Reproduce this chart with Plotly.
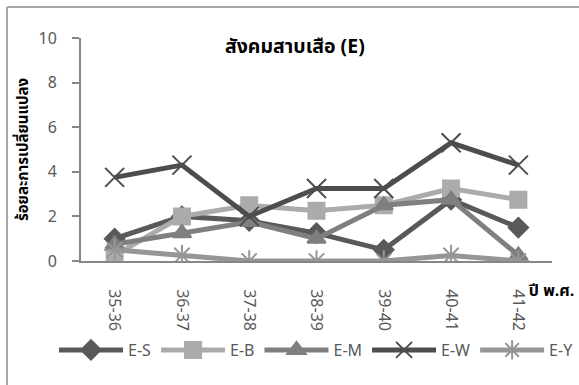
import plotly.graph_objects as go

# Periods (Buddhist-era year pairs) on the category axis
periods = ["35-36", "36-37", "37-38", "38-39", "39-40", "40-41", "41-42"]

# Percent change per series
e_s = [1.0, 2.0, 1.8, 1.25, 0.5, 2.75, 1.5]
e_b = [0.25, 2.0, 2.5, 2.25, 2.5, 3.25, 2.75]
e_m = [0.75, 1.25, 1.75, 1.0, 2.5, 2.75, 0.25]
e_w = [3.75, 4.3, 2.0, 3.25, 3.25, 5.3, 4.3]
e_y = [0.5, 0.25, 0.0, 0.0, 0.0, 0.25, 0.0]

series = [
    ("E-S", e_s, "#595959", "diamond", 15),
    ("E-B", e_b, "#ababab", "square", 16),
    ("E-M", e_m, "#7f7f7f", "triangle-up", 16),
    ("E-W", e_w, "#4d4d4d", "x-thin-open", 19),
    ("E-Y", e_y, "#969696", "asterisk-open", 18),
]

W, H = 579, 385
L, R, T, B = 81, 27, 38, 124
pw, ph = W - L - R, H - T - B

def px(x):
    return (x - L) / pw

def py(y):
    return (H - B - y) / ph

fig = go.Figure()
for name, vals, color, sym, size in series:
    fig.add_trace(go.Scatter(
        x=list(range(len(periods))), y=vals, name=name, mode="lines+markers",
        line=dict(color=color, width=5),
        marker=dict(symbol=sym, size=size, color=color,
                    line=dict(color=color, width=2)),
    ))

font_family = "Tahoma, 'Noto Sans Thai', 'Noto Sans', sans-serif"

fig.update_layout(
    width=W, height=H,
    margin=dict(l=L, r=R, t=T, b=B),
    paper_bgcolor="white", plot_bgcolor="white",
    font=dict(family=font_family, color="#595959", size=16),
    showlegend=True,
    legend=dict(orientation="h", x=px(64), y=py(350), yanchor="middle",
                xanchor="left", font=dict(size=16, color="#595959"),
                itemwidth=64, tracegroupgap=0, bgcolor="rgba(0,0,0,0)"),
    xaxis=dict(
        range=[-0.5, 6.5], tickmode="array",
        tickvals=list(range(len(periods))), ticktext=periods,
        tickangle=90, showgrid=False, zeroline=False,
        showline=True, linecolor="#868686", linewidth=2,
        ticks="", ticklabelstandoff=23,
        tickfont=dict(size=16, color="#595959"),
    ),
    yaxis=dict(
        range=[0, 10], tickvals=[0, 2, 4, 6, 8, 10],
        showgrid=False, zeroline=False,
        showline=True, linecolor="#868686", linewidth=2,
        ticks="outside", ticklen=7, tickwidth=2, tickcolor="#868686",
        ticklabelstandoff=12,
        tickfont=dict(size=16, color="#595959"),
        title=dict(text="<b>ร้อยละการเปลี่ยนแปลง</b>", standoff=6,
                   font=dict(size=15, color="#000000")),
    ),
    annotations=[
        dict(text="<b>สังคมสาบเสือ (E)</b>", x=px(295), y=py(47),
             xref="paper", yref="paper", showarrow=False,
             xanchor="center", yanchor="middle",
             font=dict(size=19.5, color="#000000")),
        dict(text="<b>ปี พ.ศ.</b>", x=px(551), y=py(291),
             xref="paper", yref="paper", showarrow=False,
             xanchor="center", yanchor="middle",
             font=dict(size=16, color="#000000")),
    ],
    shapes=[
        # chart frame: left and top edges
        dict(type="line", xref="paper", yref="paper",
             x0=px(7), x1=px(7), y0=py(400), y1=py(7),
             line=dict(color="#a6a6a6", width=2), layer="below"),
        dict(type="line", xref="paper", yref="paper",
             x0=px(7), x1=px(600), y0=py(7), y1=py(7),
             line=dict(color="#a6a6a6", width=2), layer="below"),
    ],
)

fig.write_html("out.html")
